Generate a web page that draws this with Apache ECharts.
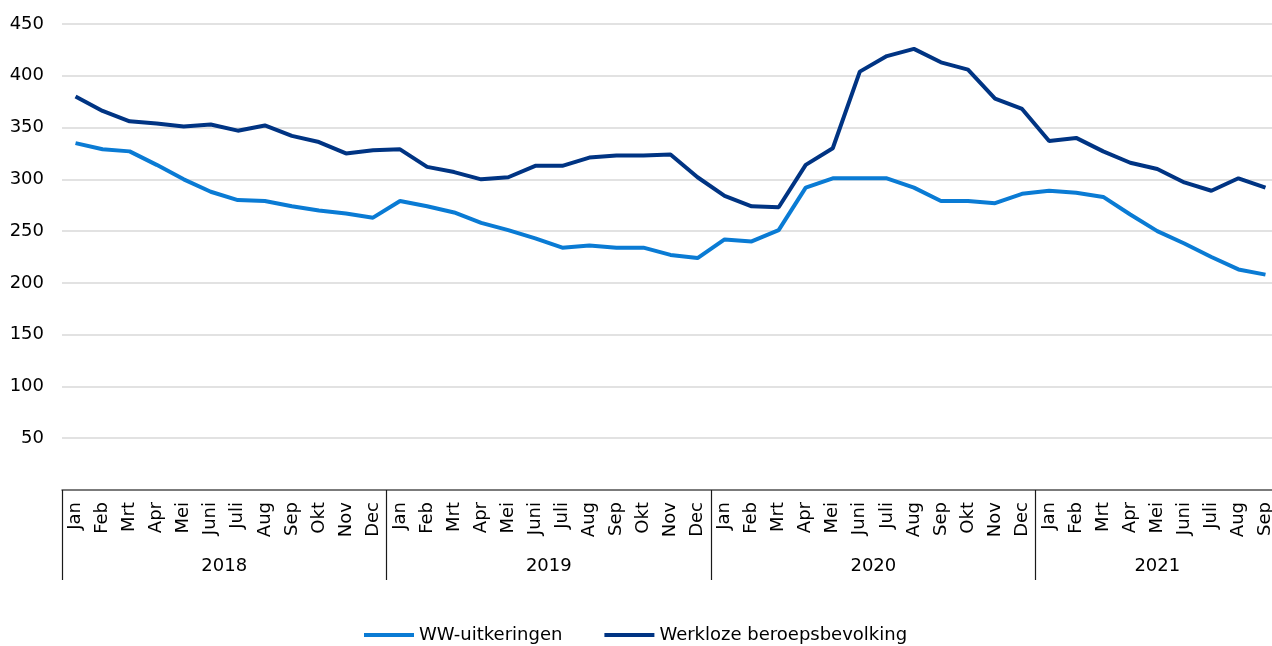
<!DOCTYPE html>
<html>
<head>
<meta charset="utf-8">
<script src="https://cdn.jsdelivr.net/npm/echarts@6/dist/echarts.min.js"></script>
<style>
html,body{margin:0;padding:0;overflow:hidden;background:#fff;}
#chart{width:1280px;height:646px;}
</style>
</head>
<body>
<div id="chart"></div>
<script>
const monthNames = ['Jan','Feb','Mrt','Apr','Mei','Juni','Juli','Aug','Sep','Okt','Nov','Dec'];
const years = ['2018','2019','2020','2021'];
const monthsPerYear = [12,12,12,9];
const seriesNames = ['WW-uitkeringen','Werkloze beroepsbevolking'];

const wwUitkeringen = [
  335,329,327,314,300,288,280,279,274,270,267,263,
  279,274,268,258,251,243,234,236,234,234,227,224,
  242,240,251,292,301,301,301,292,279,279,277,286,
  289,287,283,266,250,238,225,213,208
];
const werklozeBeroepsbevolking = [
  380,366,356,354,351,353,347,352,342,336,325,328,
  329,312,307,300,302,313,313,321,323,323,324,302,
  284,274,273,314,330,404,419,426,413,406,378,368,
  337,340,327,316,310,297,289,301,292
];
const yTicks = {min:0, max:450, interval:50};

// category list built from the month/year arrays
const categories = [];
years.forEach((y, yi) => {
  for (let m = 0; m < monthsPerYear[yi]; m++) categories.push(monthNames[m]);
});
const total = categories.length;
const yearStarts = [];
const yearMids = [];
let acc = 0;
monthsPerYear.forEach(n => { yearStarts.push(acc); yearMids.push(acc + n / 2); acc += n; });

const FONT = '"DejaVu Sans", Verdana, sans-serif';
const chart = echarts.init(document.getElementById('chart'));
chart.setOption({
  animation: false,
  textStyle: {fontFamily: FONT},
  grid: {left: 62, right: 1, top: 24, bottom: 156, containLabel: false},
  legend: {
    left: 362, top: 626, padding: 0,
    itemWidth: 50, itemHeight: 14, itemGap: 40,
    itemStyle: {opacity: 0},
    lineStyle: {width: 4},
    textStyle: {fontSize: 18, color: '#000', fontFamily: FONT},
    data: seriesNames
  },
  xAxis: [
    {
      type: 'category',
      data: categories,
      boundaryGap: true,
      axisLine: {show: true, lineStyle: {color: '#595959', width: 1.5}},
      axisTick: {show: false},
      axisLabel: {rotate: 90, margin: 12, fontSize: 18, color: '#000', fontFamily: FONT, interval: 0},
      splitLine: {show: false}
    },
    {
      type: 'value',
      position: 'bottom',
      min: 0, max: total,
      axisLine: {show: false},
      axisTick: {show: true, inside: false, length: 90, customValues: yearStarts, lineStyle: {color: '#1a1a1a', width: 1.2}},
      axisLabel: {
        show: true, margin: 67, fontSize: 18, color: '#000', fontFamily: FONT,
        customValues: yearMids,
        formatter: v => { const i = yearMids.indexOf(v); return i >= 0 ? years[i] : ''; }
      },
      splitLine: {show: false}
    }
  ],
  yAxis: {
    type: 'value',
    min: yTicks.min, max: yTicks.max, interval: yTicks.interval,
    axisLine: {show: false},
    axisTick: {show: false},
    axisLabel: {fontSize: 18, color: '#000', margin: 18, fontFamily: FONT,
      formatter: v => v === 0 ? '' : String(v)},
    splitLine: {lineStyle: {color: '#d9d9d9', width: 1.5}}
  },
  series: [
    {
      name: seriesNames[0], type: 'line', data: wwUitkeringen,
      symbol: 'none', smooth: false,
      lineStyle: {color: '#0a7bd4', width: 4}, itemStyle: {color: '#0a7bd4'}
    },
    {
      name: seriesNames[1], type: 'line', data: werklozeBeroepsbevolking,
      symbol: 'none', smooth: false,
      lineStyle: {color: '#003483', width: 4}, itemStyle: {color: '#003483'}
    }
  ]
});
</script>
</body>
</html>
